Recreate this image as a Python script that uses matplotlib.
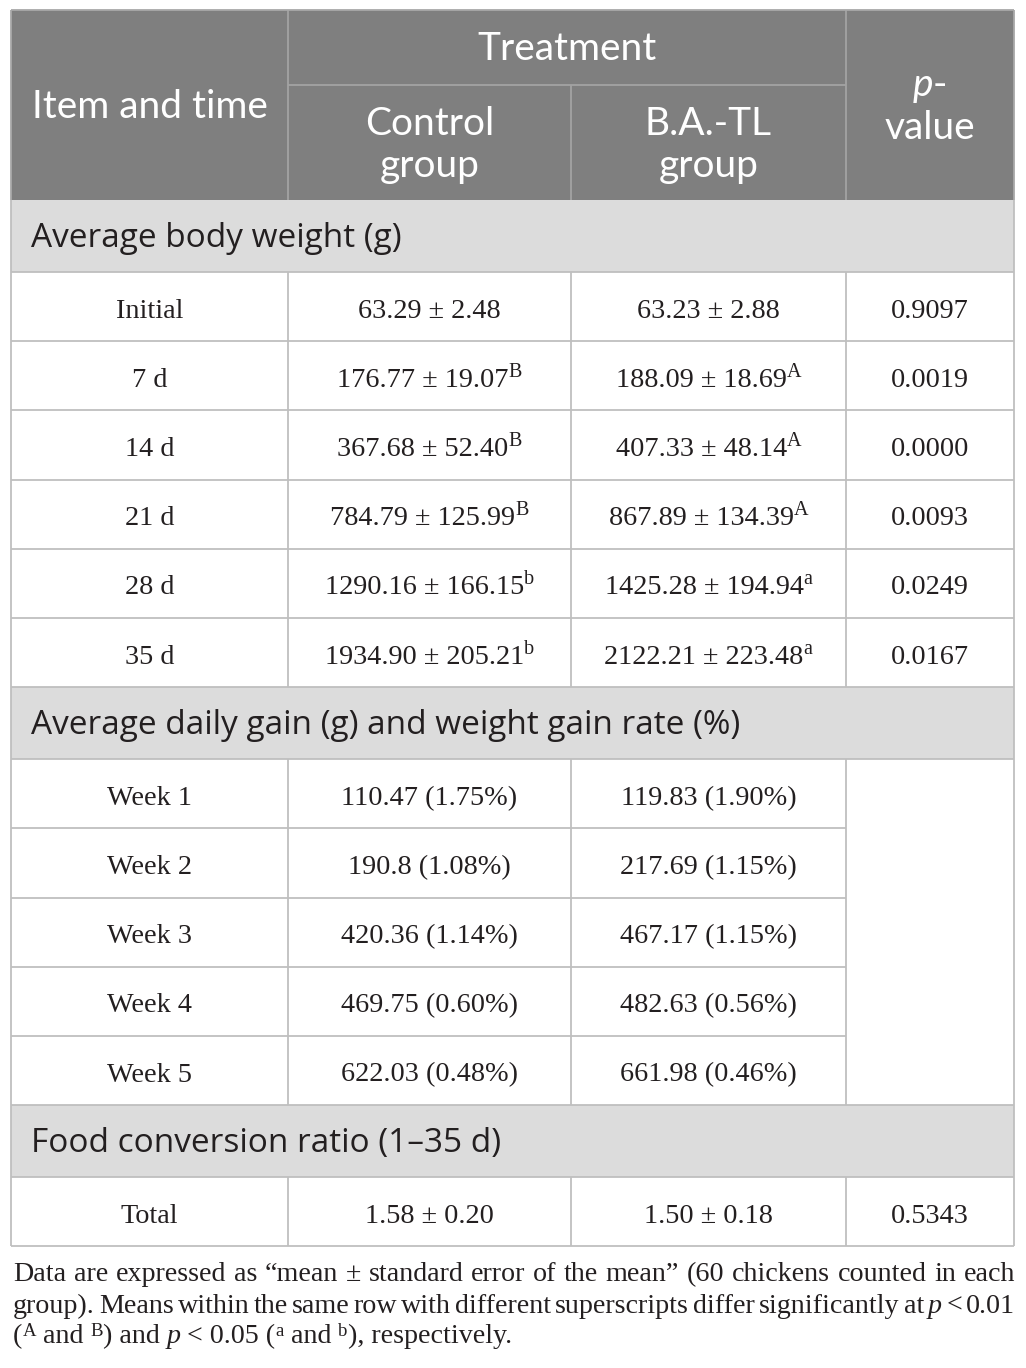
import matplotlib
matplotlib.use('Agg')
import matplotlib.pyplot as plt
from matplotlib.font_manager import FontProperties

# Данные таблицы
bw_times = ['Initial', '7 d', '14 d', '21 d', '28 d', '35 d']
bw_control = ['63.29 ± 2.48', '176.77 ± 19.07', '367.68 ± 52.40',
              '784.79 ± 125.99', '1290.16 ± 166.15', '1934.90 ± 205.21']
bw_control_sup = ['', 'B', 'B', 'B', 'b', 'b']
bw_batl = ['63.23 ± 2.88', '188.09 ± 18.69', '407.33 ± 48.14',
           '867.89 ± 134.39', '1425.28 ± 194.94', '2122.21 ± 223.48']
bw_batl_sup = ['', 'A', 'A', 'A', 'a', 'a']
bw_p = ['0.9097', '0.0019', '0.0000', '0.0093', '0.0249', '0.0167']

weeks = ['Week 1', 'Week 2', 'Week 3', 'Week 4', 'Week 5']
adg_control = ['110.47 (1.75%)', '190.8 (1.08%)', '420.36 (1.14%)',
               '469.75 (0.60%)', '622.03 (0.48%)']
adg_batl = ['119.83 (1.90%)', '217.69 (1.15%)', '467.17 (1.15%)',
            '482.63 (0.56%)', '661.98 (0.46%)']

fcr_item = 'Total'
fcr_control = '1.58 ± 0.20'
fcr_batl = '1.50 ± 0.18'
fcr_p = '0.5343'

sections = ['Average body weight (g)',
            'Average daily gain (g) and weight gain rate (%)',
            'Food conversion ratio (1–35 d)']

# Геометрия (пиксели)
W, H = 1026, 1368
X_L, X_R = 11, 1014
COLS = [11, 288, 571, 846, 1014]
Y_TOP, Y_SUB, Y_HEAD = 10, 85, 200
ROW_H = 69.2
SEC_H = 72

HEAD_BG = '#7f7f7f'
SEC_BG = '#dcdcdc'
LINE_C = '#bfbfbf'
HEAD_LINE = '#a3a3a3'
TXT = '#231f20'

fp_head = FontProperties(family='Lato', size=28)
fp_head_it = FontProperties(family='Lato', size=28, style='italic')
fp_sec = FontProperties(family='Open Sans', size=24)
fp_dat = FontProperties(family='Liberation Serif', size=20.3)
fp_sup = FontProperties(family='Liberation Serif', size=14.5)
fp_note = FontProperties(family='Liberation Serif', size=20.2)
fp_note_it = FontProperties(family='Liberation Serif', size=20.2, style='italic')
fp_note_sup = FontProperties(family='Liberation Serif', size=13.5)

fig = plt.figure(figsize=(W / 100, H / 100), dpi=100)
ax = fig.add_axes([0, 0, 1, 1])
ax.set_xlim(0, W)
ax.set_ylim(H, 0)
ax.axis('off')
renderer = fig.canvas.get_renderer()


def adv(s, fp):
    # ширина с учётом пробелов в конце
    w1 = renderer.get_text_width_height_descent(s + '|', fp, ismath=False)[0]
    w0 = renderer.get_text_width_height_descent('|', fp, ismath=False)[0]
    return w1 - w0


def runs_width(runs):
    return sum(adv(t, fp) for t, fp, _ in runs)


def draw_runs(runs, x, base, color=TXT, align='center'):
    if align == 'center':
        x = x - runs_width(runs) / 2
    for t, fp, rise in runs:
        ax.text(x, base - rise, t, fontproperties=fp, color=color,
                ha='left', va='baseline')
        x += adv(t, fp)


def hline(y, x0, x1, c=LINE_C, lw=1.3):
    ax.plot([x0, x1], [y, y], color=c, lw=lw, solid_capstyle='butt')


def vline(x, y0, y1, c=LINE_C, lw=1.3):
    ax.plot([x, x], [y0, y1], color=c, lw=lw, solid_capstyle='butt')


def rect(x0, y0, x1, y1, fc):
    ax.fill([x0, x1, x1, x0], [y0, y0, y1, y1], color=fc, lw=0)


def ccol(i):
    return (COLS[i] + COLS[i + 1]) / 2


# Шапка
rect(X_L, Y_TOP, X_R, Y_HEAD, HEAD_BG)
vline(COLS[1], Y_TOP, Y_HEAD, HEAD_LINE)
vline(COLS[3], Y_TOP, Y_HEAD, HEAD_LINE)
vline(COLS[2], Y_SUB, Y_HEAD, HEAD_LINE)
hline(Y_SUB, COLS[1], COLS[3], HEAD_LINE)
draw_runs([('Treatment', fp_head, 0)], (COLS[1] + COLS[3]) / 2, 60, 'white')
draw_runs([('Item and time', fp_head, 0)], ccol(0), 118, 'white')
draw_runs([('Control', fp_head, 0)], ccol(1), 135, 'white')
draw_runs([('group', fp_head, 0)], ccol(1), 177, 'white')
draw_runs([('B.A.-TL', fp_head, 0)], ccol(2), 135, 'white')
draw_runs([('group', fp_head, 0)], ccol(2), 177, 'white')
draw_runs([('p', fp_head_it, 0), ('-', fp_head, 0)], ccol(3), 96, 'white')
draw_runs([('value', fp_head, 0)], ccol(3), 139, 'white')


def section(y0, label):
    rect(X_L, y0, X_R, y0 + SEC_H, SEC_BG)
    draw_runs([(label, fp_sec, 0)], 31, y0 + SEC_H / 2 + 11, TXT, align='left')
    return y0 + SEC_H


def data_row(y0, cells):
    base = y0 + ROW_H / 2 + 11
    for i, runs in enumerate(cells):
        if runs:
            draw_runs(runs, ccol(i), base)
    for x in COLS[1:4]:
        vline(x, y0, y0 + ROW_H)
    return y0 + ROW_H


def val_runs(v, sup=''):
    r = [(v, fp_dat, 0)]
    if sup:
        r.append((sup, fp_sup, 10))
    return r


y = section(Y_HEAD, sections[0])
for i in range(len(bw_times)):
    hline(y, X_L, X_R)
    y = data_row(y, [val_runs(bw_times[i]),
                     val_runs(bw_control[i], bw_control_sup[i]),
                     val_runs(bw_batl[i], bw_batl_sup[i]),
                     val_runs(bw_p[i])])
hline(y, X_L, X_R)

y = section(y, sections[1])
for i in range(len(weeks)):
    hline(y, X_L, COLS[3] if i > 0 else X_R)
    y = data_row(y, [val_runs(weeks[i]), val_runs(adg_control[i]),
                     val_runs(adg_batl[i]), None])
hline(y, X_L, X_R)

y = section(y, sections[2])
hline(y, X_L, X_R)
y = data_row(y, [val_runs(fcr_item), val_runs(fcr_control),
                 val_runs(fcr_batl), val_runs(fcr_p)])
hline(y, X_L, X_R)

# Внешняя рамка
vline(X_L, Y_HEAD, y)
vline(X_R, Y_HEAD, y)
hline(Y_TOP, X_L, X_R, '#a8a8a8')
vline(X_L, Y_TOP, Y_HEAD, '#a8a8a8')
vline(X_R, Y_TOP, Y_HEAD, '#a8a8a8')

# Примечание
R, I, S = fp_note, fp_note_it, fp_note_sup
note_l1 = [[(w, R, 0)] for w in
           'Data are expressed as “mean ± standard error of the mean” '
           '(60 chickens counted in each'.split(' ')]
note_l2 = [[(w, R, 0)] for w in
           'group). Means within the same row with different superscripts '
           'differ significantly at'.split(' ')]
note_l2 += [[('p', I, 0)], [('<', R, 0)], [('0.01', R, 0)]]
note_l3 = [('(', R, 0), ('A', S, 7), (' and ', R, 0), ('B', S, 7),
           (') and ', R, 0), ('p', I, 0), (' < 0.05 (', R, 0), ('a', S, 7),
           (' and ', R, 0), ('b', S, 7), ('), respectively.', R, 0)]

NX0, NX1 = 13, 1015


def justify(words, base):
    total = sum(runs_width(w) for w in words)
    gap = (NX1 - NX0 - total) / (len(words) - 1)
    x = NX0
    for w in words:
        draw_runs(w, x, base, align='left')
        x += runs_width(w) + gap


justify(note_l1, 1281)
justify(note_l2, 1313)
draw_runs(note_l3, NX0, 1343, align='left')

fig.savefig('out.png', dpi=100, facecolor='white')
